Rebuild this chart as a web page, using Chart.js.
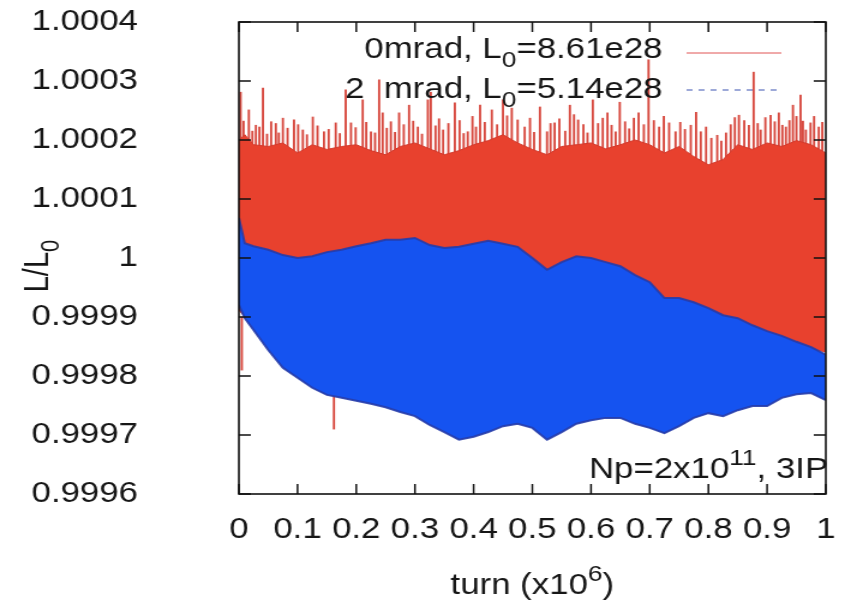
<!DOCTYPE html>
<html>
<head>
<meta charset="utf-8">
<script src="https://cdn.jsdelivr.net/npm/chart.js@4.4.1/dist/chart.umd.min.js"></script>
<style>
  html, body { margin: 0; padding: 0; background: #fff; }
</style>
</head>
<body>
<!-- drawn at 704 wide and widened to 845 like the original gnuplot export -->
<canvas id="lumiChart" width="704" height="601" style="width:845px;height:601px;display:block"></canvas>
<script>
// turn number (x10^6) where the band edges were sampled
const turns = [0, 0.01, 0.025, 0.05, 0.075, 0.1, 0.125, 0.15, 0.175, 0.2, 0.225, 0.25, 0.275, 0.3,
    0.325, 0.35, 0.375, 0.4, 0.425, 0.45, 0.475, 0.5, 0.525, 0.55, 0.575, 0.6, 0.625, 0.65, 0.675,
    0.7, 0.725, 0.75, 0.775, 0.8, 0.825, 0.85, 0.875, 0.9, 0.925, 0.95, 0.975, 1.0];

// 0 mrad crossing angle: upper / lower edge of the turn-by-turn band
const redHigh = [1.000200, 1.000209, 1.000192, 1.000189, 1.000195, 1.000178, 1.000192, 1.000184,
    1.000189, 1.000192, 1.000182, 1.000175, 1.000189, 1.000195, 1.000185, 1.000175, 1.000182,
    1.000192, 1.000199, 1.000209, 1.000195, 1.000184, 1.000175, 1.000189, 1.000192, 1.000195,
    1.000185, 1.000192, 1.000200, 1.000192, 1.000178, 1.000189, 1.000172, 1.000158, 1.000167,
    1.000192, 1.000184, 1.000195, 1.000189, 1.000199, 1.000192, 1.000178];
const redLow = [0.99991, 0.99990, 0.99989, 0.99986, 0.99986, 0.99986, 0.99986, 0.99986, 0.99986,
    0.99986, 0.99986, 0.99986, 0.99986, 0.99986, 0.99986, 0.99986, 0.99986, 0.99986, 0.99986,
    0.99986, 0.99986, 0.99986, 0.99986, 0.99986, 0.99986, 0.99986, 0.99986, 0.99986, 0.99986,
    0.99986, 0.99986, 0.99986, 0.99986, 0.99986, 0.99986, 0.99986, 0.99986, 0.99986, 0.99986,
    0.99985, 0.999845, 0.99984];

// single-turn excursions of the 0 mrad run: the tall ones ...
const spikeTurns = [0.003, 0.017, 0.029, 0.041, 0.055, 0.075, 0.094, 0.109, 0.126, 0.145, 0.165,
    0.182, 0.191, 0.211, 0.225, 0.239, 0.245, 0.259, 0.273, 0.290, 0.305, 0.322, 0.327, 0.348,
    0.368, 0.390, 0.411, 0.431, 0.450, 0.465, 0.475, 0.496, 0.513, 0.525, 0.538, 0.564, 0.578,
    0.603, 0.620, 0.635, 0.649, 0.673, 0.698, 0.716, 0.733, 0.744, 0.779, 0.796, 0.830, 0.852,
    0.869, 0.877, 0.889, 0.906, 0.932, 0.944, 0.957, 0.966, 0.974, 0.988];
const spikeTops = [1.000281, 1.000251, 1.000225, 1.000288, 1.000231, 1.000237, 1.000234, 1.000217,
    1.000239, 1.000214, 1.000229, 1.000285, 1.000229, 1.000268, 1.000214, 1.000302, 1.000246,
    1.000231, 1.000246, 1.000259, 1.000222, 1.000268, 1.000281, 1.000217, 1.000263, 1.000214,
    1.000259, 1.000251, 1.000268, 1.000254, 1.000234, 1.000237, 1.000256, 1.000214, 1.000229,
    1.000259, 1.000234, 1.000268, 1.000237, 1.000225, 1.000264, 1.000237, 1.000336, 1.000222,
    1.000229, 1.000214, 1.000247, 1.000222, 1.000212, 1.000242, 1.000225, 1.000315, 1.000217,
    1.000242, 1.000222, 1.000259, 1.000276, 1.000217, 1.000229, 1.000222];
// ... and the shorter ones packed along the top of the band
const fuzzTurns = [0.008, 0.023, 0.035, 0.048, 0.063, 0.068, 0.083, 0.101, 0.116, 0.134, 0.153,
    0.172, 0.199, 0.217, 0.232, 0.252, 0.266, 0.281, 0.297, 0.312, 0.335, 0.341, 0.357, 0.376,
    0.383, 0.398, 0.404, 0.419, 0.440, 0.457, 0.487, 0.503, 0.531, 0.546, 0.556, 0.571, 0.587,
    0.594, 0.612, 0.628, 0.642, 0.658, 0.665, 0.681, 0.690, 0.707, 0.724, 0.752, 0.760, 0.770,
    0.787, 0.805, 0.815, 0.822, 0.838, 0.845, 0.861, 0.884, 0.897, 0.913, 0.920, 0.926, 0.938,
    0.950, 0.961, 0.980, 0.994];
const fuzzTops = [1.000232, 1.000215, 1.000222, 1.000210, 1.000228, 1.000212, 1.000220, 1.000226,
    1.000209, 1.000224, 1.000218, 1.000211, 1.000221, 1.000230, 1.000212, 1.000220, 1.000213,
    1.000226, 1.000232, 1.000210, 1.000224, 1.000236, 1.000228, 1.000233, 1.000211, 1.000240,
    1.000222, 1.000230, 1.000226, 1.000241, 1.000222, 1.000213, 1.000228, 1.000236, 1.000215,
    1.000243, 1.000226, 1.000212, 1.000228, 1.000246, 1.000214, 1.000231, 1.000219, 1.000246,
    1.000226, 1.000233, 1.000240, 1.000230, 1.000218, 1.000225, 1.000214, 1.000203, 1.000208,
    1.000198, 1.000226, 1.000238, 1.000233, 1.000228, 1.000238, 1.000231, 1.000246, 1.000225,
    1.000233, 1.000240, 1.000232, 1.000240, 1.000230];
const dipTurns = [0.005, 0.162];
const dipLows = [0.99981, 0.99971];
const spikeBase = 1.00015;
const dipBase = 0.9999;

// 2 mrad crossing angle: upper / lower edge of the band
const blueHigh = [1.000068, 1.000025, 1.000020, 1.000014, 1.000005, 1.000000, 1.000003, 1.000010,
    1.000014, 1.000020, 1.000025, 1.000031, 1.000031, 1.000034, 1.000022, 1.000017, 1.000019,
    1.000024, 1.000029, 1.000024, 1.000019, 1.000000, 0.999980, 0.999993, 1.000003, 1.000000,
    0.999993, 0.999986, 0.999971, 0.999959, 0.999932, 0.999932, 0.999925, 0.999915, 0.999903,
    0.999898, 0.999886, 0.999876, 0.999868, 0.999858, 0.999849, 0.999836];
const blueLow = [0.999920, 0.999898, 0.999878, 0.999844, 0.999814, 0.999797, 0.999780, 0.999768,
    0.999763, 0.999758, 0.999753, 0.999747, 0.999739, 0.999732, 0.999717, 0.999705, 0.999692,
    0.999697, 0.999705, 0.999715, 0.999719, 0.999712, 0.999692, 0.999705, 0.999719, 0.999725,
    0.999729, 0.999729, 0.999719, 0.999712, 0.999703, 0.999715, 0.999729, 0.999737, 0.999732,
    0.999742, 0.999749, 0.999749, 0.999763, 0.999769, 0.999771, 0.999759];

const xTickValues = [0, 0.1, 0.2, 0.3, 0.4, 0.5, 0.6, 0.7, 0.8, 0.9, 1];
const xTickLabels = ['0', '0.1', '0.2', '0.3', '0.4', '0.5', '0.6', '0.7', '0.8', '0.9', '1'];
const yTickValues = [0.9996, 0.9997, 0.9998, 0.9999, 1, 1.0001, 1.0002, 1.0003, 1.0004];
const yTickLabels = ['0.9996', '0.9997', '0.9998', '0.9999', '1', '1.0001', '1.0002', '1.0003', '1.0004'];

const seriesLabels = ['0mrad, L_0=8.61e28', '2  mrad, L_0=5.14e28'];
const xTitle = 'turn (x10^6)';
const yTitle = 'L/L_0';
const note = 'Np=2x10^{11}, 3IP';

const RED = '#e8412e';
const BLUE = '#1553f0';
const BLUE_EDGE = 'rgba(38, 60, 170, 0.9)';
const FONT = '"Liberation Sans", Arial, sans-serif';
const TEXT = '#161616';

const pts = arr => arr.map((v, i) => ({ x: turns[i], y: v }));
const upBars = (ts, tops) => ts.map((t, i) => ({ x: t, y: [spikeBase, tops[i]] }));

// gnuplot-like enhanced text: _x or _{..} subscript, ^x or ^{..} superscript
function parseRich(str) {
    const parts = [];
    let buf = '';
    let i = 0;
    while (i < str.length) {
        const c = str[i];
        if (c === '_' || c === '^') {
            if (buf) { parts.push({ text: buf, shift: 0 }); buf = ''; }
            let t;
            if (str[i + 1] === '{') {
                const end = str.indexOf('}', i);
                t = str.slice(i + 2, end);
                i = end + 1;
            } else {
                t = str[i + 1];
                i += 2;
            }
            parts.push({ text: t, shift: c === '_' ? 1 : -1 });
        } else {
            buf += c;
            i++;
        }
    }
    if (buf) parts.push({ text: buf, shift: 0 });
    return parts;
}

function drawRich(ctx, str, x, y, size, align) {
    const parts = parseRich(str);
    const fontFor = p => (p.shift ? Math.round(size * 0.75) : size) + 'px ' + FONT;
    let w = 0;
    parts.forEach(p => {
        ctx.font = fontFor(p);
        p.w = ctx.measureText(p.text).width;
        w += p.w;
    });
    let cx = align === 'right' ? x - w : align === 'center' ? x - w / 2 : x;
    ctx.textAlign = 'left';
    ctx.textBaseline = 'alphabetic';
    parts.forEach(p => {
        ctx.font = fontFor(p);
        const dy = p.shift > 0 ? size * 0.3 : p.shift < 0 ? -size * 0.45 : 0;
        ctx.fillText(p.text, cx, y + dy);
        cx += p.w;
    });
}

// box, inward ticks on all four sides, key and labels
const framePlugin = {
    id: 'frame',
    afterDatasetsDraw(chart) {
        const { ctx, chartArea: a, scales } = chart;
        ctx.save();
        ctx.strokeStyle = '#111';
        ctx.lineWidth = 1.5;
        ctx.beginPath();
        scales.x.ticks.forEach(t => {
            const px = scales.x.getPixelForValue(t.value);
            ctx.moveTo(px, a.bottom); ctx.lineTo(px, a.bottom - 10);
            ctx.moveTo(px, a.top); ctx.lineTo(px, a.top + 10);
        });
        scales.y.ticks.forEach(t => {
            const py = scales.y.getPixelForValue(t.value);
            ctx.moveTo(a.left, py); ctx.lineTo(a.left + 10, py);
            ctx.moveTo(a.right, py); ctx.lineTo(a.right - 10, py);
        });
        ctx.stroke();
        ctx.lineWidth = 1.6;
        ctx.strokeRect(a.left, a.top, a.right - a.left, a.bottom - a.top);

        ctx.fillStyle = TEXT;
        // key
        drawRich(ctx, seriesLabels[0], 552, 58, 29, 'right');
        drawRich(ctx, seriesLabels[1], 552, 98, 29, 'right');
        ctx.lineWidth = 1;
        ctx.strokeStyle = '#e05555';
        ctx.beginPath(); ctx.moveTo(572, 53); ctx.lineTo(651, 53); ctx.stroke();
        ctx.strokeStyle = '#7d8dcc';
        ctx.lineWidth = 1.5;
        ctx.setLineDash([5, 5]);
        ctx.beginPath(); ctx.moveTo(572, 90); ctx.lineTo(651, 90); ctx.stroke();
        ctx.setLineDash([]);

        drawRich(ctx, note, a.right + 2, 478, 29, 'right');
        drawRich(ctx, xTitle, (a.left + a.right) / 2, 594, 29, 'center');

        ctx.translate(40, 266);
        ctx.rotate(-Math.PI / 2);
        drawRich(ctx, yTitle, 0, 0, 29, 'center');
        ctx.restore();
    }
};

const ctx = document.getElementById('lumiChart');
new Chart(ctx, {
    type: 'line',
    data: {
        datasets: [{
            // 2 mrad band, drawn over the 0 mrad one
            data: pts(blueLow),
            borderColor: BLUE_EDGE,
            borderWidth: 2,
            fill: false,
            order: 0
        }, {
            data: pts(blueHigh),
            borderColor: BLUE_EDGE,
            borderWidth: 2,
            backgroundColor: BLUE,
            fill: '-1',
            order: 1
        }, {
            data: pts(redLow),
            borderWidth: 0,
            borderColor: RED,
            fill: false,
            order: 2
        }, {
            data: pts(redHigh),
            borderColor: '#d33a2c',
            borderWidth: 1,
            backgroundColor: RED,
            fill: '-1',
            order: 3
        }, {
            // spikes sit under the red band so only the part sticking out shows
            type: 'bar',
            data: upBars(spikeTurns, spikeTops)
                .concat(upBars(fuzzTurns, fuzzTops))
                .concat(dipTurns.map((t, i) => ({ x: t, y: [dipLows[i], dipBase] }))),
            backgroundColor: 'rgba(212, 56, 46, 0.92)',
            barThickness: 1.2,
            grouped: false,
            order: 4
        }]
    },
    options: {
        responsive: false,
        animation: false,
        devicePixelRatio: 1,
        elements: { point: { radius: 0 }, line: { tension: 0 } },
        layout: { padding: { top: 22, right: 16, left: 0, bottom: 0 } },
        plugins: {
            legend: { display: false },
            tooltip: { enabled: false }
        },
        scales: {
            x: {
                type: 'linear',
                min: 0,
                max: 1,
                offset: false,
                grid: { display: false, drawTicks: false },
                border: { display: false },
                afterBuildTicks: s => { s.ticks = xTickValues.map(v => ({ value: v })); },
                afterFit: s => {
                    s.height = 107;
                    s.paddingLeft = 0;
                    s.paddingRight = 0;
                },
                ticks: {
                    autoSkip: false,
                    maxRotation: 0,
                    padding: 19,
                    color: TEXT,
                    font: { family: FONT, size: 29 },
                    callback: (v, i) => xTickLabels[i]
                }
            },
            y: {
                min: 0.9996,
                max: 1.0004,
                grid: { display: false, drawTicks: false },
                border: { display: false },
                afterBuildTicks: s => { s.ticks = yTickValues.map(v => ({ value: v })); },
                afterFit: s => {
                    // the wide label gap should not eat into the plot height
                    s.width = 199;
                    s.paddingTop = 17;
                    s.paddingBottom = 17;
                },
                ticks: {
                    padding: 84,
                    color: TEXT,
                    font: { family: FONT, size: 29 },
                    callback: (v, i) => yTickLabels[i]
                }
            }
        }
    },
    plugins: [framePlugin]
});
</script>
</body>
</html>
